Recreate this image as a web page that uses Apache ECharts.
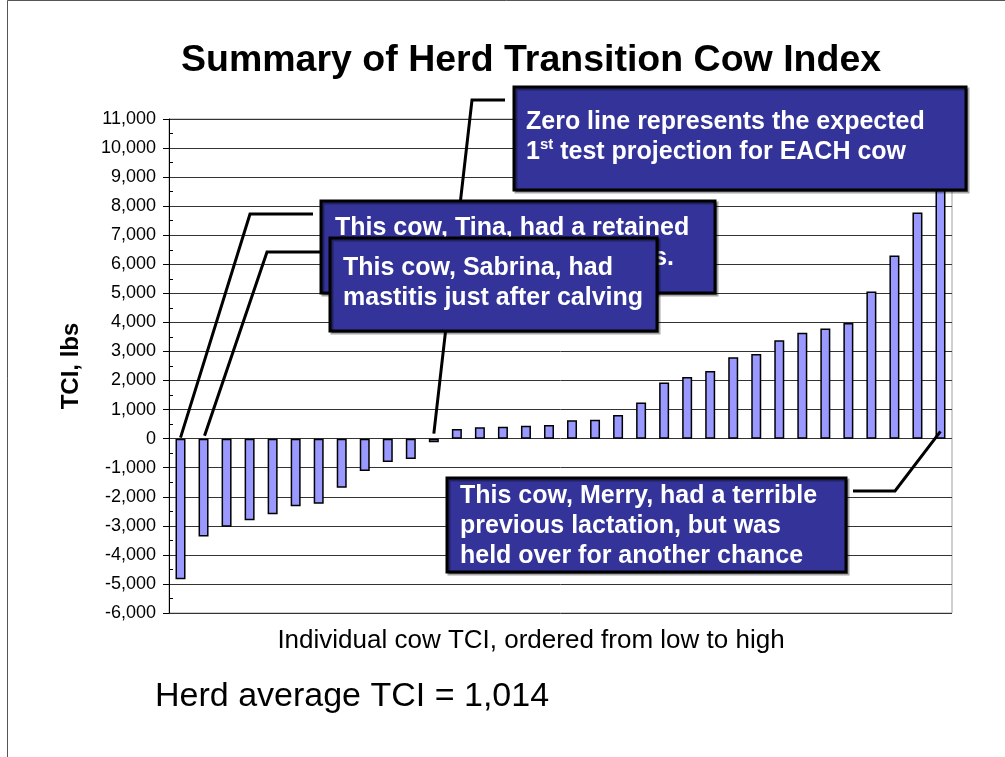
<!DOCTYPE html>
<html>
<head>
<meta charset="utf-8">
<title>Summary of Herd Transition Cow Index</title>
<script src="https://cdn.jsdelivr.net/npm/echarts@6/dist/echarts.min.js"></script>
<style>
  html, body { margin: 0; padding: 0; background: #fff; }
  #chartContent { width: 1005px; height: 757px; }
</style>
</head>
<body>
<div id="chartContent"></div>
<script>
// cows, sorted from lowest to highest TCI
var cows = ['1', '2', '3', '4', '5', '6', '7', '8', '9', '10', '11', '12',
            '13', '14', '15', '16', '17', '18', '19', '20', '21', '22', '23',
            '24', '25', '26', '27', '28', '29', '30', '31', '32', '33', '34'];
// TCI, lbs
var tciValues = [-4840, -3370, -3030, -2810, -2600, -2330, -2240, -1690, -1110, -800, -700, -120,
                 330, 390, 410, 440, 470, 630, 650, 815, 1240, 1930, 2120, 2330, 2800, 2910,
                 3390, 3640, 3790, 3980, 5060, 6300, 7780, 8800];
// y axis range
var yMin = -6000;
var yMax = 11000;
var yStep = 1000;

var FONT = 'Liberation Sans, Arial, Helvetica, sans-serif';

var myChart = echarts.init(document.getElementById('chartContent'));

var option = {
    animation: false,
    backgroundColor: '#fff',
    textStyle: { fontFamily: FONT },
    title: {
        text: 'Summary of Herd Transition Cow Index',
        left: 176,
        top: 37,
        textStyle: { fontSize: 37.5, fontWeight: 'bold', color: '#000', fontFamily: FONT }
    },
    grid: {
        left: 169, top: 119, width: 783, height: 494,
        outerBoundsMode: 'none',
        show: true,
        borderColor: '#a0a0a0',
        borderWidth: 1,
        backgroundColor: '#fff'
    },
    xAxis: {
        type: 'category',
        data: cows,
        axisLine: { show: false },
        axisTick: { show: false },
        axisLabel: { show: false },
        splitLine: { show: false }
    },
    yAxis: {
        type: 'value',
        min: yMin,
        max: yMax,
        interval: yStep,
        name: 'TCI, lbs',
        nameLocation: 'middle',
        nameRotate: 90,
        nameGap: 86,
        nameTextStyle: { fontSize: 24, fontWeight: 'bold', color: '#000', fontFamily: FONT },
        axisLine: { show: true, lineStyle: { color: '#000', width: 1 } },
        axisTick: { show: true, length: 6, lineStyle: { color: '#000' } },
        minorTick: { show: true, splitNumber: 2, length: -4, lineStyle: { color: '#000' } },
        axisLabel: {
            fontSize: 18, color: '#000', margin: 13, fontFamily: FONT,
            formatter: function (v) { return v.toLocaleString('en-US'); }
        },
        splitLine: { show: true, lineStyle: { color: '#333', width: 1 } }
    },
    series: [{
        name: 'TCI',
        type: 'bar',
        data: tciValues,
        barWidth: 10,
        itemStyle: { color: '#9999ff', borderColor: '#000', borderWidth: 1.5 }
    }]
};
myChart.setOption(option);

// 标注框及连线（连线终点取自柱子的坐标）
function at(idx, val) {
    return myChart.convertToPixel({ gridIndex: 0 }, [idx, val]);
}
function box(x, y, w, h, z) {
    return {
        type: 'rect', z: z,
        shape: { x: x, y: y, width: w, height: h },
        style: { fill: '#333399', stroke: '#000', lineWidth: 3,
                 shadowColor: 'rgba(0,0,0,0.35)', shadowOffsetX: 2, shadowOffsetY: 2, shadowBlur: 0 }
    };
}
function label(x, y, text, z) {
    return {
        type: 'text', z: z, x: x, y: y,
        style: { text: text, fill: '#fff', fontSize: 25, fontWeight: 'bold', fontFamily: FONT,
                 lineHeight: 30, align: 'left', verticalAlign: 'top' }
    };
}
function leader(pts) {
    return { type: 'polyline', z: 15, shape: { points: pts },
             style: { stroke: '#000', lineWidth: 3, fill: null } };
}

var tina = at(0, 0), sabrina = at(1, 0), zero = at(11, 0), merry = at(33, 250);

myChart.setOption({
    graphic: [
        // frame of the slide
        { type: 'polyline', z: 5, shape: { points: [[7.5, 757], [7.5, 0.5], [1005, 0.5]] },
          style: { stroke: '#555', lineWidth: 1, fill: null } },
        leader([[313, 214], [250, 214], [tina[0], tina[1] - 1]]),
        leader([[320, 252], [267, 252], [sabrina[0] + 1, sabrina[1] - 3]]),
        leader([[505, 100], [472, 100], [zero[0], zero[1] - 5]]),
        leader([[853, 491], [895, 491], merry]),
        box(321, 201, 394, 92, 20),
        label(335, 213, 'This cow, Tina, had a retained\nplacenta and severe ketosis.', 21),
        box(330, 238, 327, 93, 22),
        label(343, 253, 'This cow, Sabrina, had\nmastitis just after calving', 23),
        box(514, 87, 452, 103, 24),
        {
            type: 'text', z: 25, x: 526, y: 107,
            style: {
                text: '{n|Zero line represents the expected}\n{n|1}{s|st}{n| test projection for EACH cow}',
                fill: '#fff', fontFamily: FONT, align: 'left', verticalAlign: 'top',
                rich: {
                    n: { fill: '#fff', fontSize: 25, fontWeight: 'bold', fontFamily: FONT, lineHeight: 30 },
                    s: { fill: '#fff', fontSize: 15, fontWeight: 'bold', fontFamily: FONT, lineHeight: 20, verticalAlign: 'top' }
                }
            }
        },
        box(447, 478, 399, 94, 26),
        label(460, 481, 'This cow, Merry, had a terrible\nprevious lactation, but was\nheld over for another chance', 27),
        // x caption and herd average
        { type: 'text', z: 5, x: 531, y: 641,
          style: { text: 'Individual cow TCI, ordered from low to high', fill: '#000', fontSize: 26,
                   fontFamily: FONT, align: 'center', verticalAlign: 'middle' } },
        { type: 'text', z: 5, x: 155, y: 697,
          style: { text: 'Herd average TCI = 1,014', fill: '#000', fontSize: 34,
                   fontFamily: FONT, align: 'left', verticalAlign: 'middle' } }
    ]
});
</script>
</body>
</html>
